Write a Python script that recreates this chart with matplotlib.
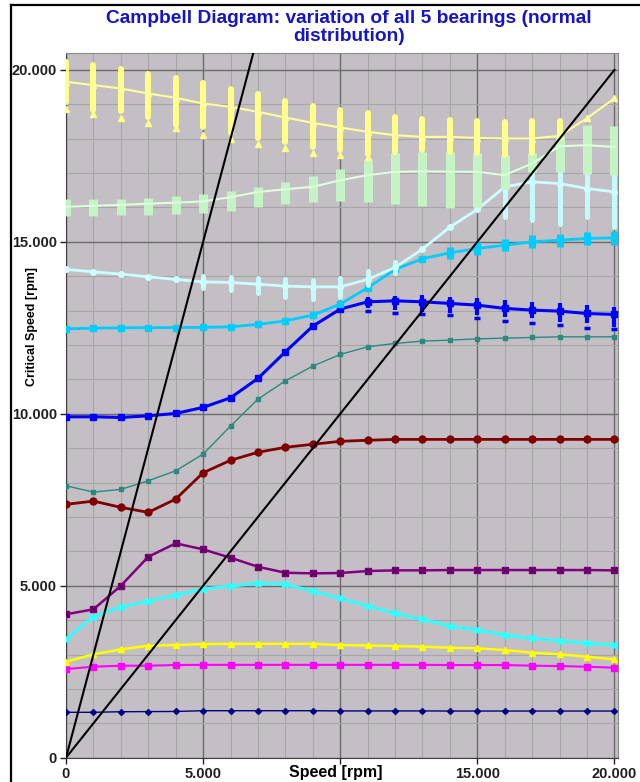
import matplotlib
matplotlib.use("Agg")
import matplotlib.pyplot as plt
from matplotlib.lines import Line2D
from matplotlib.ticker import MultipleLocator, FuncFormatter
import numpy as np

nan = np.nan

# rotor speed [rpm]
speed = np.array([0, 1000, 2000, 3000, 4000, 5000, 6000, 7000, 8000, 9000, 10000,
                  11000, 12000, 13000, 14000, 15000, 16000, 17000, 18000, 19000, 20000])

# excitation orders drawn from the origin
orders = [1, 3]

# mean critical speed of each mode [rpm]
navy = [1320, 1320, 1337, 1340, 1345, 1366, 1366, 1366, 1366, 1366, 1360,
        1360, 1360, 1360, 1357, 1357, 1357, 1357, 1357, 1357, 1357]
magenta = [2578, 2646, 2675, 2675, 2695, 2700, 2700, 2700, 2700, 2700, 2700,
           2700, 2700, 2700, 2695, 2695, 2695, 2675, 2665, 2646, 2616]
yellow = [2791, 3006, 3151, 3256, 3276, 3305, 3310, 3310, 3310, 3310, 3276,
          3265, 3247, 3227, 3198, 3180, 3131, 3053, 3006, 2936, 2860]
cyan = [3451, 4099, 4390, 4555, 4730, 4904, 4991, 5070, 5041, 4846, 4634,
        4410, 4197, 4023, 3828, 3712, 3567, 3471, 3401, 3326, 3276]
purple = [4169, 4314, 5000, 5843, 6233, 6058, 5814, 5552, 5378, 5360, 5370,
          5428, 5448, 5448, 5457, 5457, 5457, 5457, 5457, 5457, 5447]
darkred = [7366, 7462, 7279, 7134, 7520, 8285, 8648, 8881, 9026, 9113, 9200,
           9230, 9256, 9256, 9256, 9256, 9256, 9256, 9256, 9256, 9256]
teal = [7907, 7724, 7802, 8052, 8343, 8828, 9643, 10427, 10959, 11387, 11727,
        11948, 12047, 12113, 12142, 12180, 12200, 12220, 12238, 12238, 12238]
blue = [9913, 9913, 9894, 9942, 10010, 10186, 10465, 11029, 11802, 12549, 13044,
        13256, 13285, 13256, 13209, 13160, 13064, 13015, 12985, 12917, 12888]
skyblue = [12471, 12490, 12500, 12505, 12509, 12512, 12529, 12599, 12703, 12869, 13189,
           13663, 14198, 14509, 14680, 14808, 14904, 15000, 15049, 15098, 15116]
lightcyan = [14198, 14128, 14061, 13984, 13907, 13837, 13818, 13770, 13712, 13692, 13692,
             13907, 14256, 14790, 15430, 15942, 16599, 16744, 16696, 16550, 16453]
lightgreen = [16017, 16046, 16075, 16110, 16140, 16175, 16300, 16450, 16530, 16600, 16790,
              16940, 17035, 17050, 17040, 17035, 16940, 17280, 17780, 17810, 17760]
lightyellow = [19654, 19557, 19460, 19314, 19188, 19024, 18925, 18779, 18616, 18459, 18325,
               18199, 18102, 18052, 18052, 18023, 18006, 18004, 18081, 18595, 19176]

# spread of the modes that react to the bearing scatter
blue_hi = [nan, nan, nan, nan, nan, nan, nan, nan, nan, nan, nan,
           13401, 13422, 13451, 13401, 13354, 13305, 13256, 13209, 13160, 13110]
blue_lo = [nan, nan, nan, nan, nan, nan, nan, nan, nan, nan, nan,
           13064, 13014, 12965, 12918, 12869, 12820, 12772, 12674, 12627, 12529]
blue_min = [nan, nan, nan, nan, nan, nan, nan, nan, nan, nan, nan,
            12990, 12940, 12900, 12869, 12772, 12703, 12645, 12578, 12482, 12453]
skyblue_hi = [nan, nan, nan, nan, nan, nan, nan, nan, nan, nan, nan,
              nan, nan, nan, 14860, 14990, 15090, 15190, 15240, 15290, 15310]
skyblue_lo = [nan, nan, nan, nan, nan, nan, nan, nan, nan, nan, nan,
              nan, nan, nan, 14500, 14630, 14720, 14810, 14860, 14900, 14920]
lightcyan_hi = [nan, nan, nan, nan, nan, 14003, 13983, 13936, 13907, 13887, 13936,
                14157, 14419, nan, nan, nan, 16600, 17035, 17035, 16987, 16939]
lightcyan_lo = [nan, nan, nan, nan, nan, 13646, 13596, 13500, 13401, 13325, 13401,
                13741, 14082, nan, nan, nan, 15727, 15630, 15533, 15727, 15436]
lightgreen_hi = [16233, 16250, 16250, 16280, 16320, 16386, 16474, 16599, 16727, 16919, 17114,
                 17375, 17569, 17616, 17616, 17569, 17520, 17569, 18102, 18392, 18363]
lightgreen_lo = [15747, 15747, 15780, 15790, 15820, 15826, 15901, 16017, 16096, 16146, 16183,
                 16146, 16096, 16038, 15971, 16017, 16550, 17035, 17035, 16987, 16939]
lightyellow_hi = [20233, 20137, 20040, 19895, 19769, 19605, 19430, 19285, 19100, 18953, 18828,
                  18733, 18616, 18558, 18530, 18520, 18490, 18519, 18519, nan, nan]
lightyellow_lo = [19070, 18829, 18808, 18616, 18393, 18343, 18151, 18006, 17907, 17762, 17666,
                  17560, 17600, 17666, 17616, 17569, 17520, 17569, 18052, nan, nan]
lightyellow_min = [18849, 18712, 18587, 18442, 18297, 18102, 17977, 17840, 17715, 17587, 17520,
                   17471, nan, nan, nan, nan, nan, nan, nan, nan, nan]


def spread(ax, lo, hi, color, width, z, cap="butt"):
    lo = np.array(lo, float)
    hi = np.array(hi, float)
    ok = ~np.isnan(lo)
    lc = ax.vlines(speed[ok], lo[ok], hi[ok], colors=color, linewidth=width, zorder=z)
    lc.set_capstyle(cap)


def thousands(v, p):
    return "{:,.0f}".format(v).replace(",", ".")


def speed_label(v, p):
    # the middle label sits under the axis title, so leave it out
    if abs(v - 10000) < 1:
        return ""
    return thousands(v, p)


fig = plt.figure(figsize=(6.4, 7.82), dpi=100)
plt.rcParams["font.family"] = ["Liberation Sans", "DejaVu Sans"]

ax = fig.add_axes([66 / 640, 24.3 / 782, 552 / 640, 705 / 782])
ax.set_facecolor("#c3bfc4")
ax.set_xlim(0, 20130)
ax.set_ylim(0, 20500)

ax.xaxis.set_major_locator(MultipleLocator(5000))
ax.xaxis.set_minor_locator(MultipleLocator(1000))
ax.yaxis.set_major_locator(MultipleLocator(5000))
ax.yaxis.set_minor_locator(MultipleLocator(1000))
ax.xaxis.set_major_formatter(FuncFormatter(speed_label))
ax.yaxis.set_major_formatter(FuncFormatter(thousands))
ax.grid(which="major", color="#6c6c6c", linewidth=1.0)
ax.grid(which="minor", color="#a6a6a6", linewidth=0.8)
ax.set_axisbelow(True)
ax.tick_params(which="major", direction="out", length=4.5, width=1, pad=2,
               labelsize=10.5, colors="#202020")
ax.tick_params(which="minor", length=0)
for lab in ax.get_xticklabels() + ax.get_yticklabels():
    lab.set_fontweight("bold")
for side in ("left", "bottom"):
    ax.spines[side].set_color("#404040")
for side in ("top", "right"):
    ax.spines[side].set_color("#8a8a8a")

ax.plot(speed, navy, color="#000080", lw=1.0, marker="D", ms=3, zorder=3)
ax.plot(speed, magenta, color="#ff00ff", lw=1.5, marker="s", ms=4, zorder=3)
ax.plot(speed, yellow, color="#ffff00", lw=1.8, marker="^", ms=5, zorder=3)
ax.plot(speed, cyan, color="#33ffff", lw=2.2, marker="X", ms=5, zorder=3)
ax.plot(speed, purple, color="#800080", lw=1.8, marker="s", ms=4.5, zorder=3)
ax.plot(speed, purple, color="#5a005a", lw=0, marker="x", ms=4, mew=1, zorder=3)
ax.plot(speed, darkred, color="#800000", lw=2.0, marker="o", ms=5, zorder=3)
ax.plot(speed, teal, color="#2a8a80", lw=1.0, marker="s", ms=3, zorder=3)

spread(ax, blue_lo, blue_hi, "#0000ff", 3, 4)
ax.plot(speed, blue, color="#0000ff", lw=2.2, marker="s", ms=4, zorder=4)
ax.plot(speed, blue_min, color="#0000ff", lw=0, marker="_", ms=5, mew=2.5, zorder=4)

spread(ax, skyblue_lo, skyblue_hi, "#00ccff", 5, 5)
ax.plot(speed, skyblue, color="#00ccff", lw=2.0, marker="s", ms=5, zorder=5)

spread(ax, lightcyan_lo, lightcyan_hi, "#c4fafa", 3.6, 6, cap="round")
ax.plot(speed, lightcyan, color="#ccffff", lw=2.0, marker="o", ms=4, zorder=6)

spread(ax, lightgreen_lo, lightgreen_hi, "#c4f4c4", 6.5, 7)
ax.plot(speed, lightgreen, color="#dcffdc", lw=1.5, zorder=7)

spread(ax, lightyellow_lo, lightyellow_hi, "#ffff88", 4.3, 8, cap="round")
ax.plot(speed, lightyellow_min, color="#ffff88", lw=0, marker="^", ms=4.5, zorder=8)
ax.plot(speed, lightyellow, color="#ffff99", lw=1.5, marker="^", ms=5, zorder=8)

# order lines: n times the running speed
for n in orders:
    ax.plot([0, 20000], [0, 20000 * n], color="black", lw=1.5, zorder=10)

fig.text(349 / 640, 1 - 27.5 / 782,
         "Campbell Diagram: variation of all 5 bearings (normal\ndistribution)",
         ha="center", va="center", fontsize=13.8, fontweight="bold",
         color="#1414c8", linespacing=1.15)
fig.text(32 / 640, 1 - 327 / 782, "Critical Speed [rpm]", rotation=90,
         ha="center", va="center", fontsize=9, fontweight="bold")
fig.text(336 / 640, 1 - 773 / 782, "Speed [rpm]", ha="center", va="center",
         fontsize=11.5, fontweight="bold")

# chart frame
fig.add_artist(Line2D([11 / 640, 11 / 640], [0, 1 - 5 / 782], color="black", lw=1.6))
fig.add_artist(Line2D([11 / 640, 1], [1 - 5 / 782, 1 - 5 / 782], color="black", lw=1.6))

fig.savefig("out.png", dpi=100)
